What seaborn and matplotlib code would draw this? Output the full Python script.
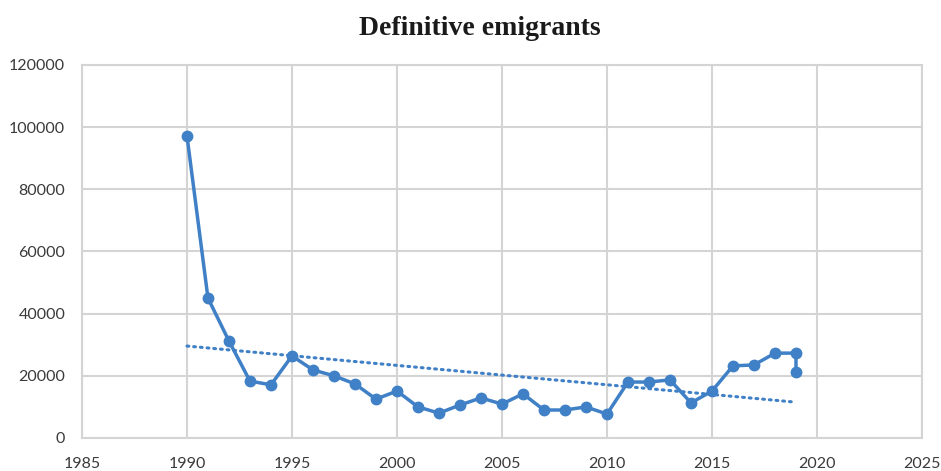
import numpy as np
import pandas as pd
import matplotlib
matplotlib.use("Agg")
import matplotlib.pyplot as plt
import seaborn as sns

# Definitive emigrants per year (2019 reported twice: provisional and final)
years = [1990, 1991, 1992, 1993, 1994, 1995, 1996, 1997, 1998, 1999,
         2000, 2001, 2002, 2003, 2004, 2005, 2006, 2007, 2008, 2009,
         2010, 2011, 2012, 2013, 2014, 2015, 2016, 2017, 2018, 2019, 2019]
emigrants = [97200, 45000, 31200, 18300, 17100, 26400, 21900, 20000, 17400, 12500,
             15100, 10000, 8000, 10600, 12900, 10900, 14200, 9000, 9000, 10000,
             7700, 18000, 18000, 18700, 11300, 15100, 23200, 23500, 27300, 27300, 21200]

x_ticks = [1985, 1990, 1995, 2000, 2005, 2010, 2015, 2020, 2025]
y_ticks = [0, 20000, 40000, 60000, 80000, 100000, 120000]

df = pd.DataFrame({"year": years, "emigrants": emigrants})

sns.set_theme(style="white")
plt.rcParams["font.family"] = ["Lato", "DejaVu Sans"]

blue = "#3f80c6"

fig = plt.figure(figsize=(9.41, 4.71), dpi=100)
ax = fig.add_axes([0.0871, 0.0701, 0.8927, 0.7919])

# Linear trend line (dotted)
sns.regplot(data=df, x="year", y="emigrants", ax=ax, scatter=False, ci=None,
            truncate=True,
            line_kws=dict(color=blue, lw=2.2, linestyle=(0, (0.6, 1.6)),
                          dash_capstyle="round"))

# Data series in file order
ax.plot(df["year"], df["emigrants"], color=blue, lw=2.5, marker="o",
        markersize=7.5, zorder=3)

ax.set_xlim(1985, 2025)
ax.set_ylim(0, 120000)
ax.set_xticks(x_ticks)
ax.set_yticks(y_ticks)
ax.set_xticklabels([str(v) for v in x_ticks])
ax.set_yticklabels([str(v) for v in y_ticks])
ax.set_xlabel("")
ax.set_ylabel("")

ax.grid(True, color="#d4d4d4", lw=1.5)
ax.set_axisbelow(True)
for side, sp in ax.spines.items():
    sp.set_visible(True)
    sp.set_color("#d4d4d4")
    sp.set_linewidth(1.5)

ax.tick_params(axis="both", length=0, labelsize=11.5, colors="#3a3a3a")
ax.tick_params(axis="x", pad=14)
ax.tick_params(axis="y", pad=12)

fig.suptitle("Definitive emigrants", x=0.51, y=0.965,
             fontsize=20, fontweight="bold", family=["Liberation Serif", "DejaVu Serif"],
             color="#1a1a1a")

fig.savefig("out.png", dpi=100, facecolor="white")
